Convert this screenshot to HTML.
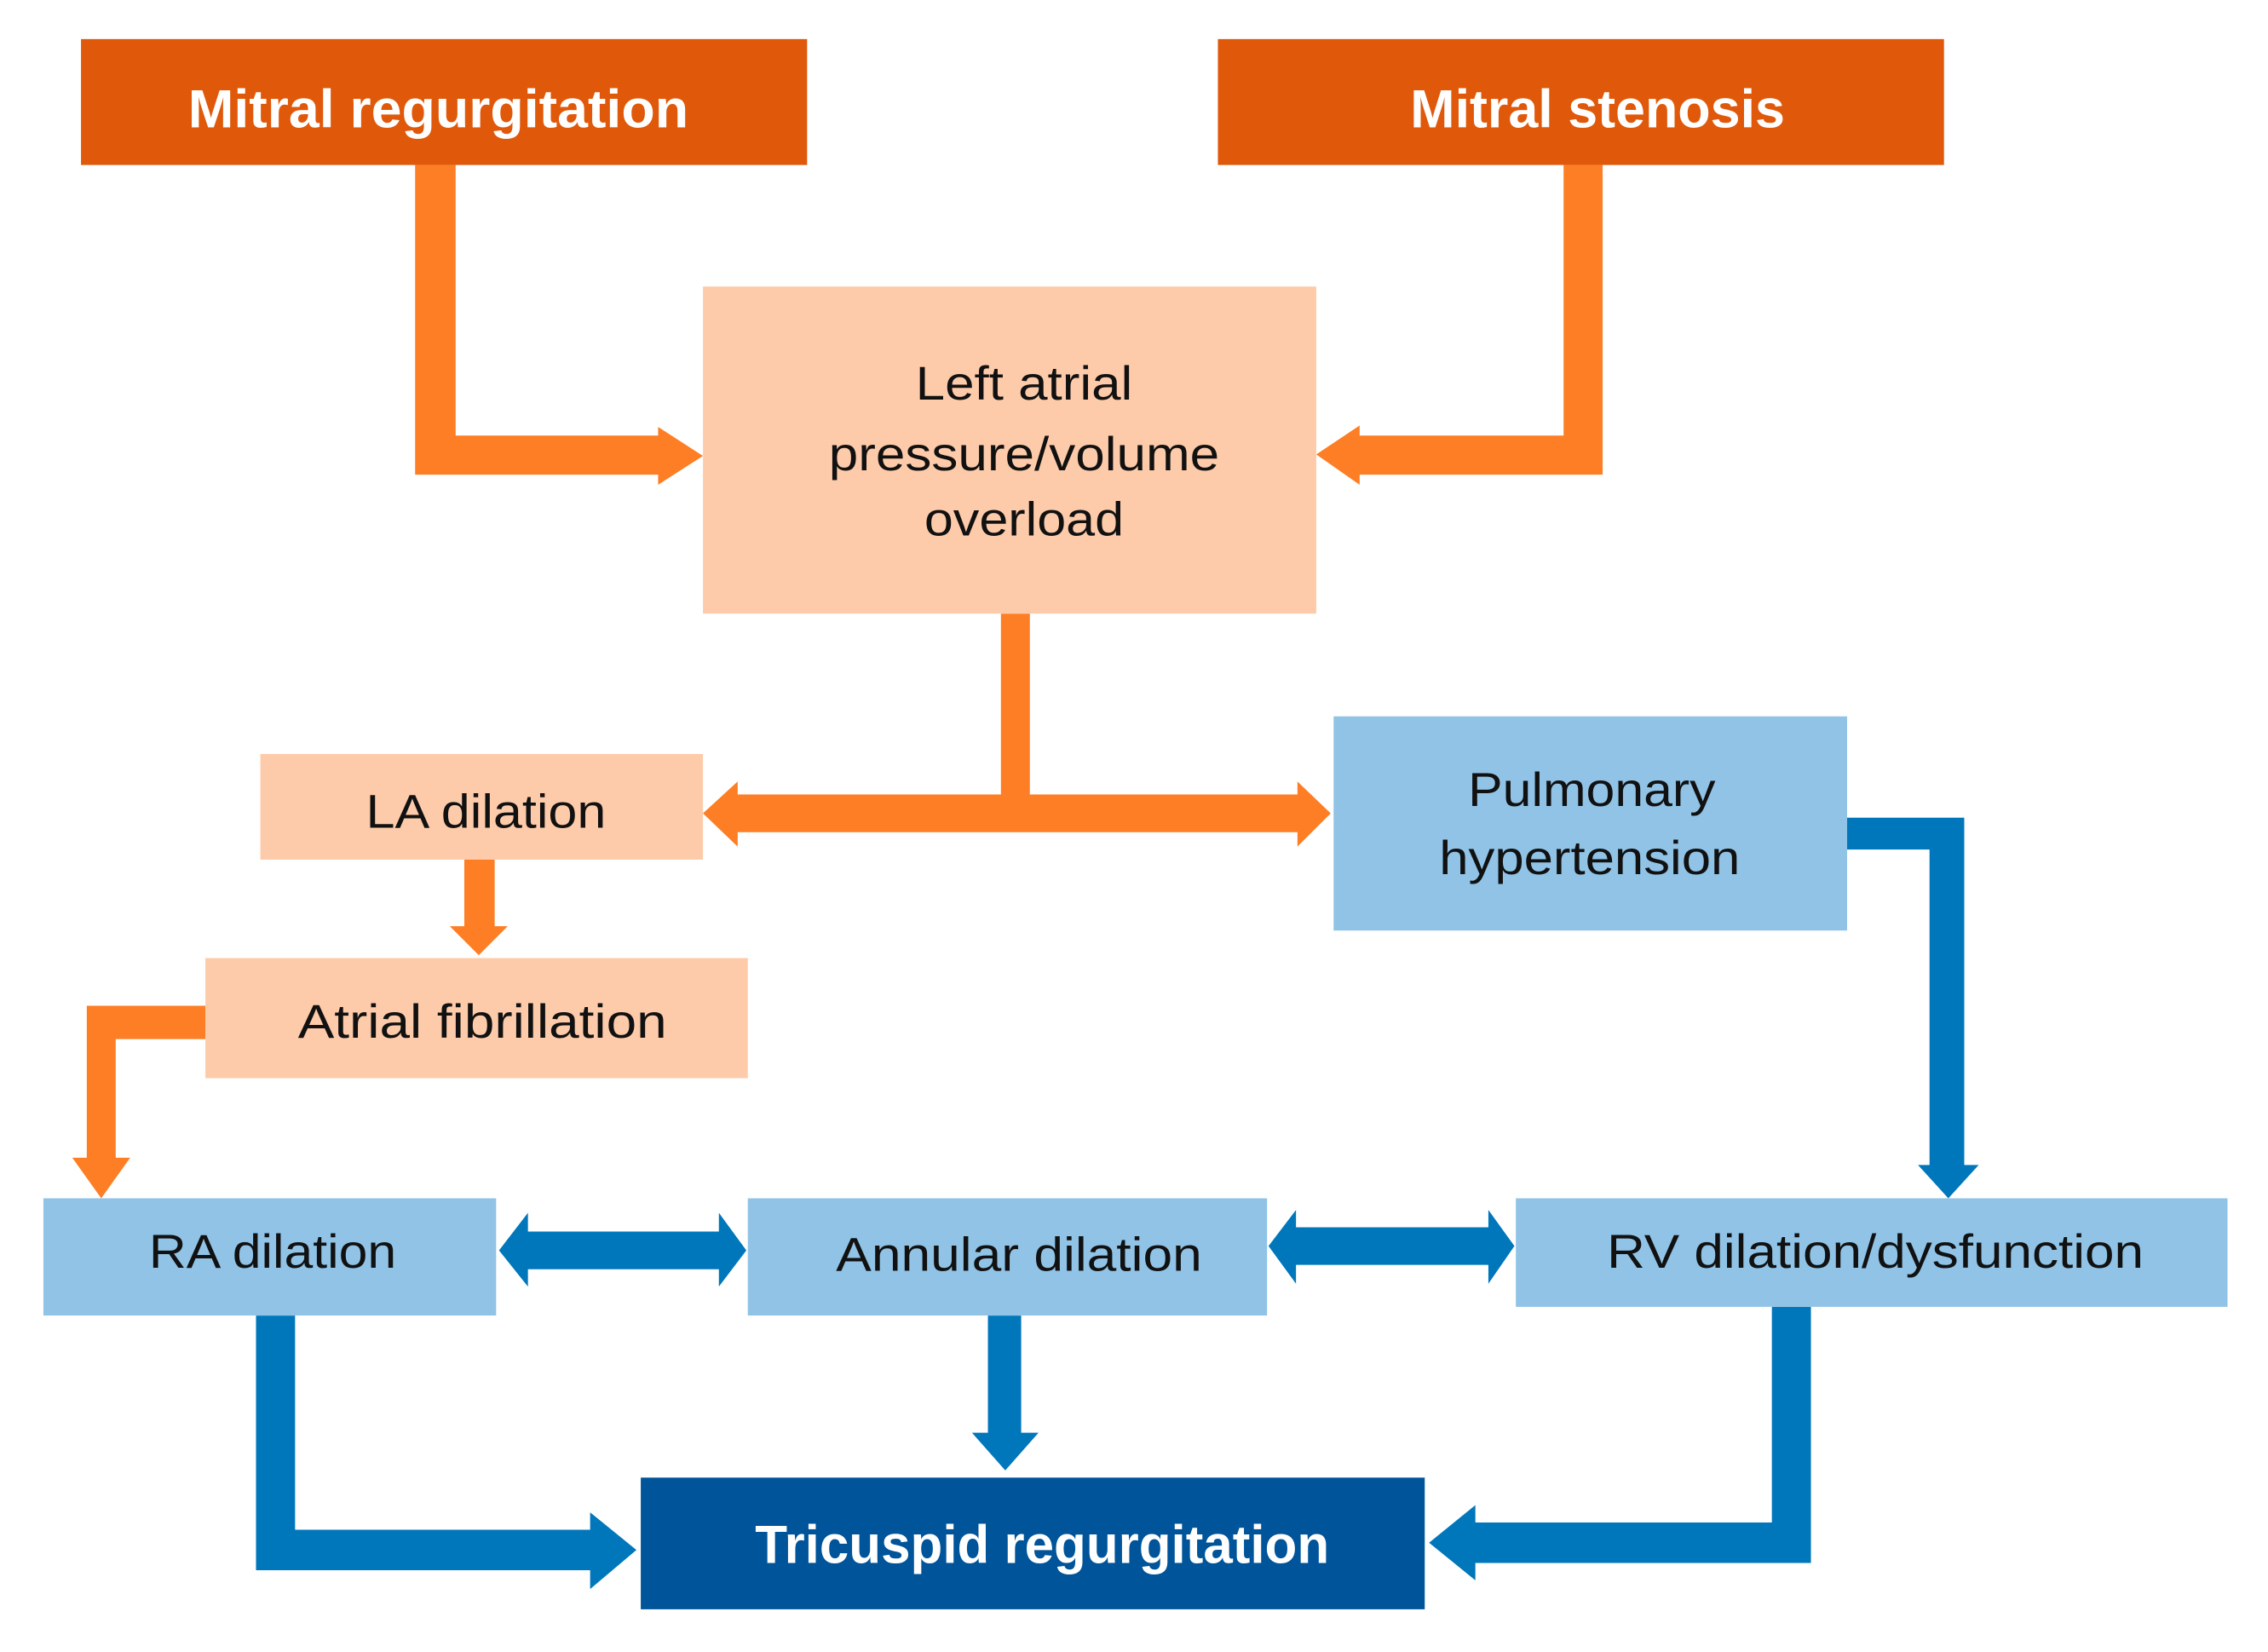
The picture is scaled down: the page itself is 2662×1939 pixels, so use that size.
<!DOCTYPE html>
<html><head><meta charset="utf-8"><style>html,body{margin:0;padding:0;background:#fff}svg{display:block}</style></head>
<body>
<svg width="2662" height="1939" viewBox="0 0 1568 1141.5" preserveAspectRatio="none" xmlns="http://www.w3.org/2000/svg">
<rect width="1570" height="1145" fill="#fff"/>
<g fill="#FD7E24">
<polygon points="287,114 315,114 315,301 455,301 455,295 486,315 455,335 455,328 287,328"/>
<polygon points="1081,114 1108,114 1108,328 940,328 940,335 910,314 940,294 940,301 1081,301"/>
<polygon points="692,424 712,424 712,549 897,549 897,540 920,562 897,585 897,575 510,575 510,585 486,562 510,540 510,549 692,549"/>
<polygon points="321,594 342,594 342,640 351,640 331,660 311,640 321,640"/>
<polygon points="142,695 142,718 80,718 80,800 90,800 70,828 50,800 60,800 60,695"/>
</g>
<g fill="#0077BB">
<polygon points="1277,565 1358,565 1358,805 1368,805 1347,828 1326,805 1334,805 1334,587 1277,587"/>
<polygon points="365,851 497,851 497,838 516,864 497,889 497,877 365,877 365,889 345,864 365,838"/>
<polygon points="896,848 1029,848 1029,836 1047,861 1029,887 1029,874 896,874 896,887 877,861 896,836"/>
<polygon points="177,909 204,909 204,1057 408,1057 408,1045 440,1071 408,1098 408,1085 177,1085"/>
<polygon points="683,909 706,909 706,990 718,990 695,1016 672,990 683,990"/>
<polygon points="1225,903 1252,903 1252,1080 1020,1080 1020,1092 988,1066 1020,1040 1020,1052 1225,1052"/>
</g>
<rect x="56" y="27" width="502" height="87" fill="#E0590B"/>
<rect x="842" y="27" width="502" height="87" fill="#E0590B"/>
<rect x="486" y="198" width="424" height="226" fill="#FDCBAA"/>
<rect x="180" y="521" width="306" height="73" fill="#FDCBAA"/>
<rect x="142" y="662" width="375" height="83" fill="#FDCBAA"/>
<rect x="922" y="495" width="355" height="148" fill="#90C3E6"/>
<rect x="30" y="828" width="313" height="81" fill="#90C3E6"/>
<rect x="517" y="828" width="359" height="81" fill="#90C3E6"/>
<rect x="1048" y="828" width="492" height="75" fill="#90C3E6"/>
<rect x="443" y="1021" width="542" height="91" fill="#00549A"/>
<g font-family="Liberation Sans, sans-serif" font-size="33" fill="#111" lengthAdjust="spacingAndGlyphs">
<text x="130" y="88" fill="#fff" font-weight="bold" font-size="37" textLength="346" lengthAdjust="spacingAndGlyphs">Mitral regurgitation</text>
<text x="975" y="88" fill="#fff" font-weight="bold" font-size="37" textLength="259" lengthAdjust="spacingAndGlyphs">Mitral stenosis</text>
<text x="633" y="276" textLength="150" lengthAdjust="spacingAndGlyphs">Left atrial</text>
<text x="573" y="325" textLength="270" lengthAdjust="spacingAndGlyphs">pressure/volume</text>
<text x="639" y="370" textLength="138" lengthAdjust="spacingAndGlyphs">overload</text>
<text x="253" y="572" textLength="166" lengthAdjust="spacingAndGlyphs">LA dilation</text>
<text x="1015" y="557" textLength="171" lengthAdjust="spacingAndGlyphs">Pulmonary</text>
<text x="995" y="604" textLength="208" lengthAdjust="spacingAndGlyphs">hypertension</text>
<text x="206" y="717" textLength="255" lengthAdjust="spacingAndGlyphs">Atrial fibrillation</text>
<text x="103" y="876" textLength="171" lengthAdjust="spacingAndGlyphs">RA dilation</text>
<text x="578" y="878" textLength="253" lengthAdjust="spacingAndGlyphs">Annular dilation</text>
<text x="1111" y="876" textLength="371" lengthAdjust="spacingAndGlyphs">RV dilation/dysfunction</text>
<text x="522" y="1080" fill="#fff" font-weight="bold" font-size="37" textLength="397" lengthAdjust="spacingAndGlyphs">Tricuspid regurgitation</text>
</g>
</svg>
</body></html>
